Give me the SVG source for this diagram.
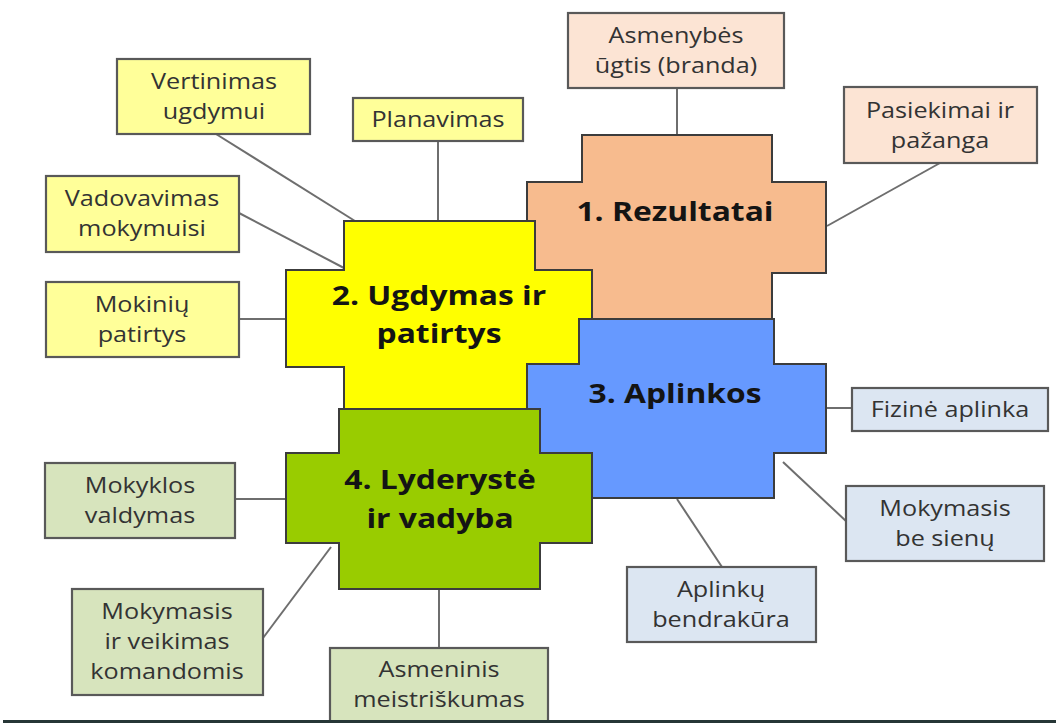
<svg xmlns="http://www.w3.org/2000/svg" width="1056" height="723" viewBox="0 0 1056 723">
<style>
.cross{stroke:#3c3c3c;stroke-width:2;stroke-linejoin:miter}
.box{stroke:#595959;stroke-width:2.2}
.o{fill:#FCE4D4}.y{fill:#FFFF99}.b{fill:#DCE6F2}.g{fill:#D7E4BD}
.conn line{stroke:#6e6e6e;stroke-width:2}
.t{font-family:"Open Sans","Liberation Sans",sans-serif;font-size:21px;fill:#333333;text-anchor:middle}
.h{font-family:"Open Sans","Liberation Sans",sans-serif;font-size:26.5px;font-weight:bold;fill:#141414;text-anchor:middle}
</style>
<rect width="1056" height="723" fill="#ffffff"/>
<g id="connectors" class="conn">
<line x1="677" y1="88" x2="677" y2="135"/>
<line x1="940" y1="163" x2="827" y2="226"/>
<line x1="216" y1="134" x2="355" y2="221"/>
<line x1="438" y1="141" x2="438" y2="221"/>
<line x1="239" y1="213" x2="344" y2="268"/>
<line x1="239" y1="319" x2="286" y2="319"/>
<line x1="827" y1="408" x2="852" y2="408"/>
<line x1="783" y1="462" x2="847" y2="522"/>
<line x1="677" y1="499" x2="722" y2="567"/>
<line x1="235" y1="499" x2="286" y2="499"/>
<line x1="263" y1="638" x2="331" y2="547"/>
<line x1="439" y1="589" x2="439" y2="648"/>
</g>
<g id="n1-rezultatai">
<path class="cross" fill="#F7BB8E" d="M582 135H772V182H826V273H772V320H582V273H527V182H582Z"/>
<text class="h" transform="translate(675,221) scale(1.2,1)">1. Rezultatai</text>
</g>
<g id="n2-ugdymas">
<path class="cross" fill="#FFFF00" d="M344 221H535V270H592V367H535V410H344V367H286V270H344Z"/>
<text class="h" transform="translate(439,305) scale(1.2,1)"><tspan x="0" y="0">2. Ugdymas ir</tspan><tspan x="0" y="38">patirtys</tspan></text>
</g>
<g id="n3-aplinkos">
<path class="cross" fill="#6699FF" d="M579 319H774V364H826V453H774V498H579V453H527V364H579Z"/>
<text class="h" transform="translate(675,403) scale(1.2,1)">3. Aplinkos</text>
</g>
<g id="n4-lyderyste">
<path class="cross" fill="#99CC00" d="M339 409H540V453H592V543H540V589H339V543H286V453H339Z"/>
<text class="h" transform="translate(440,489) scale(1.2,1)"><tspan x="0" y="0">4. Lyderystė</tspan><tspan x="0" y="39">ir vadyba</tspan></text>
</g>
<g id="asmenybes-ugtis">
<rect class="box o" x="568" y="13" width="216" height="75"/>
<text class="t" transform="translate(676,43) scale(1.2,1)"><tspan x="0" y="0">Asmenybės</tspan><tspan x="0" y="30">ūgtis (branda)</tspan></text>
</g>
<g id="pasiekimai">
<rect class="box o" x="844" y="87" width="193" height="76"/>
<text class="t" transform="translate(940,118) scale(1.2,1)"><tspan x="0" y="0">Pasiekimai ir</tspan><tspan x="0" y="30">pažanga</tspan></text>
</g>
<g id="vertinimas">
<rect class="box y" x="117" y="59" width="193" height="75"/>
<text class="t" transform="translate(214,89) scale(1.2,1)"><tspan x="0" y="0">Vertinimas</tspan><tspan x="0" y="30">ugdymui</tspan></text>
</g>
<g id="planavimas">
<rect class="box y" x="353" y="98" width="170" height="43"/>
<text class="t" transform="translate(438,127) scale(1.2,1)">Planavimas</text>
</g>
<g id="vadovavimas">
<rect class="box y" x="46" y="176" width="193" height="76"/>
<text class="t" transform="translate(142,206) scale(1.2,1)"><tspan x="0" y="0">Vadovavimas</tspan><tspan x="0" y="30">mokymuisi</tspan></text>
</g>
<g id="mokiniu-patirtys">
<rect class="box y" x="46" y="282" width="193" height="75"/>
<text class="t" transform="translate(142,312) scale(1.2,1)"><tspan x="0" y="0">Mokinių</tspan><tspan x="0" y="30">patirtys</tspan></text>
</g>
<g id="fizine-aplinka">
<rect class="box b" x="852" y="388" width="196" height="43"/>
<text class="t" transform="translate(950,417) scale(1.2,1)">Fizinė aplinka</text>
</g>
<g id="mokymasis-be-sienu">
<rect class="box b" x="846" y="486" width="198" height="75"/>
<text class="t" transform="translate(945,516) scale(1.2,1)"><tspan x="0" y="0">Mokymasis</tspan><tspan x="0" y="30">be sienų</tspan></text>
</g>
<g id="aplinku-bendrakura">
<rect class="box b" x="627" y="567" width="189" height="75"/>
<text class="t" transform="translate(721,597) scale(1.2,1)"><tspan x="0" y="0">Aplinkų</tspan><tspan x="0" y="30">bendrakūra</tspan></text>
</g>
<g id="mokyklos-valdymas">
<rect class="box g" x="45" y="463" width="190" height="75"/>
<text class="t" transform="translate(140,493) scale(1.2,1)"><tspan x="0" y="0">Mokyklos</tspan><tspan x="0" y="30">valdymas</tspan></text>
</g>
<g id="mokymasis-komandomis">
<rect class="box g" x="72" y="589" width="191" height="106"/>
<text class="t" transform="translate(167,619) scale(1.2,1)"><tspan x="0" y="0">Mokymasis</tspan><tspan x="0" y="30">ir veikimas</tspan><tspan x="0" y="60">komandomis</tspan></text>
</g>
<g id="asmeninis-meistriskumas">
<rect class="box g" x="330" y="648" width="218" height="74"/>
<text class="t" transform="translate(439,677) scale(1.2,1)"><tspan x="0" y="0">Asmeninis</tspan><tspan x="0" y="30">meistriškumas</tspan></text>
</g>
<rect id="bottom-rule" x="3" y="720" width="1053" height="3" fill="#263636"/>
</svg>
